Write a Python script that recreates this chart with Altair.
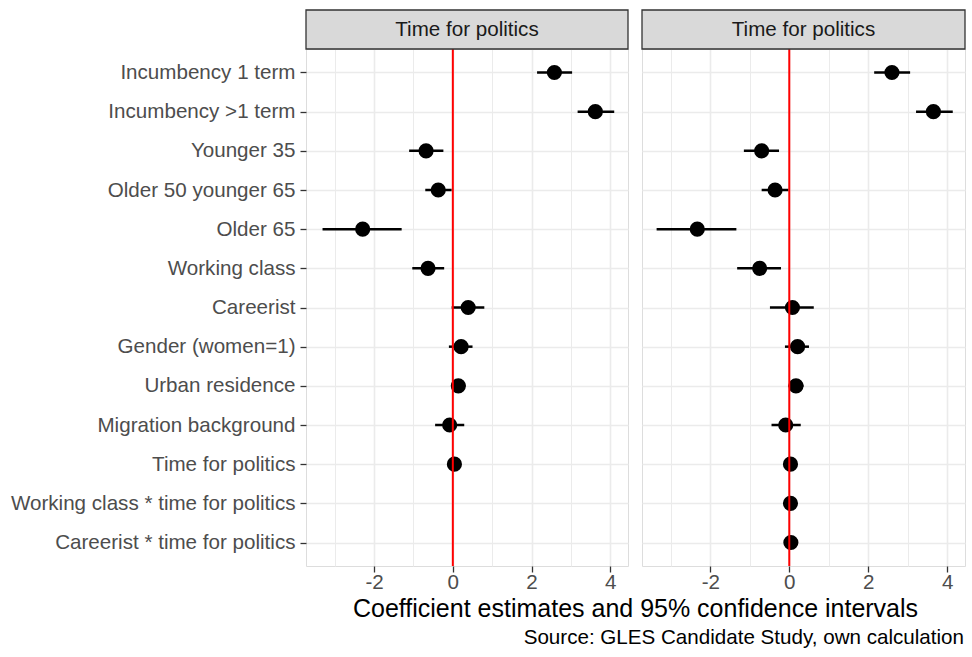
import altair as alt
import pandas as pd

categories = [
    "Incumbency 1 term", "Incumbency >1 term", "Younger 35", "Older 50 younger 65",
    "Older 65", "Working class", "Careerist", "Gender (women=1)", "Urban residence",
    "Migration background", "Time for politics", "Working class * time for politics",
    "Careerist * time for politics",
]

left_est = [2.58, 3.62, -0.68, -0.37, -2.29, -0.63, 0.39, 0.21, 0.14, -0.08, 0.04]
left_lo = [2.14, 3.17, -1.11, -0.70, -3.31, -1.03, -0.03, -0.10, -0.04, -0.45, 0.00]
left_hi = [3.03, 4.10, -0.24, -0.03, -1.30, -0.22, 0.80, 0.50, 0.32, 0.29, 0.08]

right_est = [2.60, 3.65, -0.70, -0.36, -2.33, -0.75, 0.08, 0.21, 0.17, -0.09, 0.03, 0.03, 0.04]
right_lo = [2.15, 3.21, -1.15, -0.70, -3.36, -1.32, -0.49, -0.11, -0.02, -0.45, -0.01, -0.02, -0.01]
right_hi = [3.06, 4.14, -0.26, -0.02, -1.34, -0.21, 0.62, 0.50, 0.36, 0.29, 0.07, 0.08, 0.09]

panel_titles = ["Time for politics", "Time for politics"]
x_title = "Coefficient estimates and 95% confidence intervals"
caption = "Source: GLES Candidate Study, own calculation"
x_domain = [-3.73, 4.45]
x_grid_values = [-3, -2, -1, 0, 1, 2, 3, 4]

FONT = "Liberation Sans"
H = 517
STRIP = 39
FS = 20.6


def x_enc(field):
    return alt.X(
        field,
        type="quantitative",
        scale=alt.Scale(domain=x_domain, nice=False, zero=False),
        axis=alt.Axis(
            title=None,
            values=x_grid_values,
            labelExpr="datum.value % 2 === 0 ? (datum.value < 0 ? '-' + abs(datum.value) : '' + datum.value) : ''",
            labelFontSize=20.6,
            labelColor="#4D4D4D",
            labelPadding=0,
            tickSize=6,
            tickColor="#333333",
            tickWidth=1.3,
            tickOpacity={"condition": {"test": "datum.value % 2 === 0", "value": 1}, "value": 0},
            domain=False,
            grid=True,
            gridColor="#EBEBEB",
            gridWidth={"condition": {"test": "datum.value % 2 === 0", "value": 1.6}, "value": 1.0},
        ),
    )


def y_enc(show_labels):
    if show_labels:
        axis = alt.Axis(
            title=None, labelFontSize=FS, labelColor="#4D4D4D", labelPadding=5,
            tickSize=6, tickColor="#333333", tickWidth=1.3, domain=False,
            grid=True, gridColor="#EBEBEB", gridWidth=1.6, labelLimit=0,
        )
    else:
        axis = alt.Axis(
            title=None, labels=False, ticks=False, domain=False,
            grid=True, gridColor="#EBEBEB", gridWidth=1.6,
        )
    return alt.Y(
        "term:N",
        scale=alt.Scale(type="point", domain=categories, padding=0.6),
        axis=axis,
        sort=categories,
    )


def panel(est, lo, hi, title, width, show_labels, extra=None):
    df = pd.DataFrame({
        "term": categories[: len(est)],
        "est": est,
        "lo": lo,
        "hi": hi,
    })
    base = alt.Chart(df)
    bars = base.mark_rule(color="black", strokeWidth=2.5).encode(
        x=x_enc("lo"), x2="hi", y=y_enc(show_labels)
    )
    pts = base.mark_circle(color="black", opacity=1, size=230).encode(
        x=x_enc("est"), y=y_enc(show_labels)
    )
    zero = alt.Chart(alt.Data(values=[{}])).mark_rule(color="#FF0000", strokeWidth=2).encode(
        x=alt.datum(0, type="quantitative")
    )
    strip = alt.Chart(alt.Data(values=[{}])).mark_rect(
        fill="#D9D9D9", stroke="#333333", strokeWidth=1.3
    ).encode(
        x=alt.value(0), x2=alt.value(width), y=alt.value(-STRIP), y2=alt.value(0)
    )
    strip_text = alt.Chart(alt.Data(values=[{}])).mark_text(
        text=title, fontSize=FS, color="#1A1A1A", font=FONT, baseline="middle", align="center"
    ).encode(x=alt.value(width / 2), y=alt.value(-STRIP / 2))
    layers = [bars, pts, zero, strip, strip_text]
    if extra:
        layers += extra
    return alt.layer(*layers).properties(width=width, height=H)


xt = alt.Chart(alt.Data(values=[{}])).mark_text(
    text=x_title, fontSize=25, color="#000000", font=FONT, align="center", baseline="alphabetic"
).encode(x=alt.value(329.5), y=alt.value(568))
cap = alt.Chart(alt.Data(values=[{}])).mark_text(
    text=caption, fontSize=FS, color="#000000", font=FONT, align="right", baseline="alphabetic"
).encode(x=alt.value(658), y=alt.value(595))

left = panel(left_est, left_lo, left_hi, panel_titles[0], 322, True, [xt, cap])
right = panel(right_est, right_lo, right_hi, panel_titles[1], 323, False)

chart = alt.hconcat(left, right, spacing=14, bounds="flush").properties(
    padding={"left": 9, "top": 8, "right": 5, "bottom": 5},
    background="white",
).configure_view(
    stroke="#333333", strokeWidth=1.3
).configure(
    font=FONT
)

chart.save("out.html", embed_options={"renderer": "svg", "actions": False})
